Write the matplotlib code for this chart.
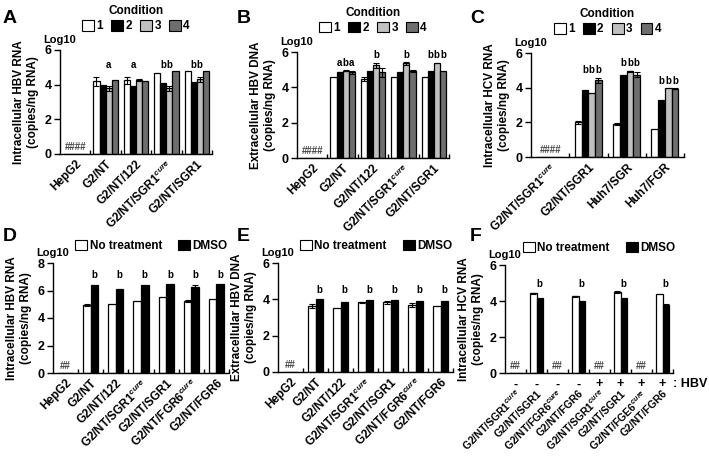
import numpy as np
import matplotlib
matplotlib.use("Agg")
import matplotlib.pyplot as plt
from matplotlib.patches import Patch

plt.rcParams["font.family"] = ["Liberation Sans", "DejaVu Sans"]
plt.rcParams["font.weight"] = "bold"
plt.rcParams["axes.labelweight"] = "bold"
plt.rcParams["mathtext.fontset"] = "custom"
plt.rcParams["mathtext.rm"] = "Liberation Sans"
plt.rcParams["mathtext.it"] = "Liberation Sans:italic"
plt.rcParams["mathtext.bf"] = "Liberation Sans:bold"

CURE = "$^{cure}$"

# ---- data (log10 copies/ng RNA) ----
cond_labels = ["1", "2", "3", "4"]
cond_colors = ["white", "black", "#c0c0c0", "#6e6e6e"]
trt_labels = ["No treatment", "DMSO"]
trt_colors = ["white", "black"]

# A: intracellular HBV RNA, rows = condition 1..4
a_groups = ["HepG2", "G2/NT", "G2/NT/122", "G2/NT/SGR1" + CURE, "G2/NT/SGR1"]
a_vals = [[0, 4.20, 4.25, 4.70, 4.80],
          [0, 4.00, 3.95, 4.10, 4.15],
          [0, 3.80, 4.25, 3.80, 4.30],
          [0, 4.25, 4.20, 4.78, 4.78]]
a_errs = [[0, 0.25, 0.20, 0, 0],
          [0, 0, 0, 0, 0],
          [0, 0.15, 0.05, 0.15, 0.15],
          [0, 0, 0, 0, 0]]
a_marks = [(1, 2, "a"), (2, 1, "a"), (3, 1, "b"), (3, 2, "b"), (4, 1, "b"), (4, 2, "b")]

# B: extracellular HBV DNA
b_groups = ["HepG2", "G2/NT", "G2/NT/122", "G2/NT/SGR1" + CURE, "G2/NT/SGR1"]
b_vals = [[0, 4.60, 4.47, 4.60, 4.60],
          [0, 4.85, 4.90, 4.88, 4.90],
          [0, 4.95, 5.25, 5.35, 5.40],
          [0, 4.85, 4.85, 4.92, 4.92]]
b_errs = [[0, 0, 0.10, 0, 0],
          [0, 0.03, 0, 0, 0],
          [0, 0.03, 0.15, 0.10, 0],
          [0, 0.08, 0.25, 0.07, 0]]
b_marks = [(1, 1, "a"), (1, 2, "b"), (1, 3, "a"), (2, 2, "b"), (3, 2, "b"),
           (4, 1, "b"), (4, 2, "b"), (4, 3, "b")]

# C: intracellular HCV RNA
c_groups = ["G2/NT/SGR1" + CURE, "G2/NT/SGR1", "Huh7/SGR", "Huh7/FGR"]
c_vals = [[0, 2.00, 1.90, 1.60],
          [0, 3.85, 4.72, 3.28],
          [0, 3.68, 4.95, 3.97],
          [0, 4.42, 4.75, 3.93]]
c_errs = [[0, 0.07, 0.05, 0],
          [0, 0, 0, 0],
          [0, 0, 0.03, 0],
          [0, 0.15, 0.15, 0.03]]
c_marks = [(g, c, "b") for g in (1, 2, 3) for c in (1, 2, 3)]

# D: intracellular HBV RNA, rows = no treatment / DMSO
d_groups = ["HepG2", "G2/NT", "G2/NT/122", "G2/NT/SGR1" + CURE, "G2/NT/SGR1",
            "G2/NT/FGR6" + CURE, "G2/NT/FGR6"]
d_vals = [[0, 4.95, 5.02, 5.27, 5.50, 5.25, 5.35],
          [0, 6.40, 6.10, 6.40, 6.45, 6.25, 6.50]]
d_errs = [[0, 0.05, 0, 0, 0, 0.05, 0],
          [0, 0, 0, 0, 0, 0.15, 0]]
d_marks = [(g, 1, "b") for g in range(1, 7)]

# E: extracellular HBV DNA
e_groups = d_groups
e_vals = [[0, 3.62, 3.52, 3.85, 3.85, 3.70, 3.62],
          [0, 4.00, 3.85, 3.95, 3.95, 3.93, 3.93]]
e_errs = [[0, 0.10, 0, 0.03, 0.08, 0.10, 0],
          [0, 0, 0, 0, 0, 0, 0]]
e_marks = [(g, 1, "b") for g in range(1, 7)]

# F: intracellular HCV RNA
f_groups = ["G2/NT/SGR1" + CURE, "G2/NT/SGR1", "G2/NT/FGR6" + CURE, "G2/NT/FGR6",
            "G2/NT/SGR1" + CURE, "G2/NT/SGR1", "G2/NT/FGE6" + CURE, "G2/NT/FGR6"]
f_hbv = ["-", "-", "-", "-", "+", "+", "+", "+"]
f_vals = [[0, 4.42, 0, 4.27, 0, 4.50, 0, 4.38],
          [0, 4.18, 0, 4.00, 0, 4.15, 0, 3.80]]
f_errs = [[0, 0.03, 0, 0.03, 0, 0.05, 0, 0],
          [0, 0, 0, 0, 0, 0, 0, 0.05]]
f_marks = [(g, 1, "b") for g in (1, 3, 5, 7)]

ylab_hbv_rna = "Intracellular HBV RNA\n(copies/ng RNA)"
ylab_hbv_dna = "Extracellular HBV DNA\n(copies/ng RNA)"
ylab_hcv_rna = "Intracellular HCV RNA\n(copies/ng RNA)"


def draw_panel(ax, groups, vals, errs, colors, width, ymax, ylabel, marks,
               mark_floor=None, mark_pad=0.12, xpad=3, xsize=8.5):
    vals = np.array(vals, dtype=float)
    errs = np.array(errs, dtype=float)
    n_cond, n_grp = vals.shape
    x = np.arange(n_grp)
    for i in range(n_cond):
        xi = x + (i - (n_cond - 1) / 2) * width
        ax.bar(xi, vals[i], width, color=colors[i], edgecolor="black",
               linewidth=0.9, zorder=2)
        m = errs[i] > 0
        ax.errorbar(xi[m], vals[i][m], yerr=errs[i][m], fmt="none", ecolor="black",
                    elinewidth=0.8, capsize=2, capthick=0.8, zorder=3)
    tops = (vals + errs).max(axis=0)
    for g, c, t in marks:
        xi = g + (c - (n_cond - 1) / 2) * width
        y = tops[g] + mark_pad if mark_floor is None else mark_floor
        ax.text(xi, y, t, ha="center", va="bottom", fontsize=7)
    # not detected
    for g in range(n_grp):
        if vals[:, g].max() == 0:
            ax.text(g, ymax * 0.02, "#" * n_cond, ha="center", va="bottom",
                    fontsize=7, color="#444444")
    ax.set_xlim(-0.5, n_grp - 0.5)
    ax.set_ylim(0, ymax)
    ax.set_yticks(np.arange(0, ymax + 1, 2))
    ax.set_xticks(x)
    ax.set_xticklabels(groups, rotation=45, ha="right", rotation_mode="anchor",
                       fontsize=xsize)
    ax.tick_params(axis="x", which="major", length=0, pad=xpad)
    ax.set_xticks(np.arange(0.5, n_grp), minor=True)
    ax.tick_params(axis="x", which="minor", direction="in", length=3, width=1)
    ax.tick_params(axis="y", direction="out", length=4, width=1, labelsize=9, pad=2)
    for s in ["top", "right"]:
        ax.spines[s].set_visible(False)
    ax.spines["left"].set_linewidth(1)
    ax.spines["bottom"].set_linewidth(1)
    ax.set_ylabel(ylabel, fontsize=8.5, labelpad=4)
    ax.text(0.0, 1.05, "Log10", transform=ax.transAxes, ha="center", va="bottom",
            fontsize=8)


fig = plt.figure(figsize=(7.09, 4.62), dpi=100)

ax_a = fig.add_axes([60 / 709, 1 - 154 / 462, 152 / 709, 104 / 462])
ax_b = fig.add_axes([297 / 709, 1 - 158 / 462, 152 / 709, 106 / 462])
ax_c = fig.add_axes([531 / 709, 1 - 157 / 462, 153 / 709, 104 / 462])
ax_d = fig.add_axes([53 / 709, 1 - 373 / 462, 176 / 709, 110 / 462])
ax_e = fig.add_axes([278 / 709, 1 - 372 / 462, 175 / 709, 109 / 462])
ax_f = fig.add_axes([505 / 709, 1 - 373 / 462, 168 / 709, 108 / 462])

draw_panel(ax_a, a_groups, a_vals, a_errs, cond_colors, 0.2, 6, ylab_hbv_rna,
           a_marks, mark_floor=4.85)
draw_panel(ax_b, b_groups, b_vals, b_errs, cond_colors, 0.2, 6, ylab_hbv_dna,
           b_marks, mark_pad=0.12)
draw_panel(ax_c, c_groups, c_vals, c_errs, cond_colors, 0.175, 6, ylab_hcv_rna,
           c_marks, mark_pad=0.15)
draw_panel(ax_d, d_groups, d_vals, d_errs, trt_colors, 0.3, 8, ylab_hbv_rna,
           d_marks, mark_floor=6.75)
draw_panel(ax_e, e_groups, e_vals, e_errs, trt_colors, 0.3, 6, ylab_hbv_dna,
           e_marks, mark_floor=4.25)
draw_panel(ax_f, f_groups, f_vals, f_errs, trt_colors, 0.3, 6, ylab_hcv_rna,
           f_marks, mark_floor=4.65, xpad=11, xsize=7.5)

# HBV +/- row under panel F
for g, s in enumerate(f_hbv):
    ax_f.text(g, -0.05, s, transform=ax_f.get_xaxis_transform(), ha="center",
              va="top", fontsize=9)
ax_f.text(1.0, -0.05, ": HBV", transform=ax_f.transAxes, ha="left", va="top",
          fontsize=9)

# legends
cond_handles = [Patch(facecolor=c, edgecolor="black", linewidth=0.8) for c in cond_colors]
for ax in (ax_a, ax_b, ax_c):
    ax.legend(cond_handles, cond_labels, title="Condition", ncol=4,
              loc="lower center", bbox_to_anchor=(0.5, 1.17), frameon=False,
              handlelength=1.0, handleheight=1.0, handletextpad=0.2,
              columnspacing=0.7, fontsize=8.5, borderpad=0, borderaxespad=0,
              labelspacing=0.25,
              title_fontproperties={"weight": "bold", "size": 8.5})

trt_handles = [Patch(facecolor=c, edgecolor="black", linewidth=0.8) for c in trt_colors]
for ax in (ax_d, ax_e, ax_f):
    ax.legend(trt_handles, trt_labels, ncol=2, loc="lower center",
              bbox_to_anchor=(0.56, 1.1), frameon=False, handlelength=1.0,
              handleheight=1.0, handletextpad=0.2, columnspacing=1.4,
              fontsize=8.5, borderpad=0, borderaxespad=0)

# panel letters
for lab, px, py in [("A", 3, 10), ("B", 237, 10), ("C", 470, 10),
                    ("D", 3, 228), ("E", 237, 228), ("F", 470, 228)]:
    fig.text(px / 709, 1 - py / 462, lab, fontsize=14, fontweight="bold",
             ha="left", va="top")

fig.savefig("out.png", dpi=100)
